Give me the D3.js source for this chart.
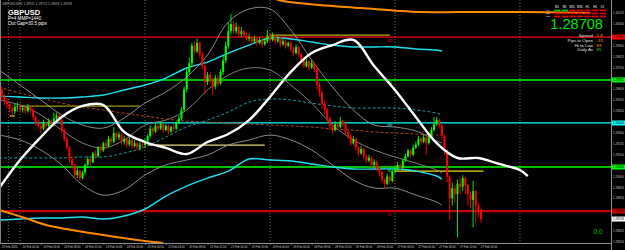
<!DOCTYPE html>
<html>
<head>
<meta charset="utf-8">
<title>GBPUSD M30</title>
<script src="https://cdn.jsdelivr.net/npm/d3@7"></script>
<style>
  body { margin: 0; background: #000; }
  svg { display: block; font-family: 'Liberation Sans', Arial, sans-serif; }
</style>
</head>
<body>
<div id="chart"></div>
<script>
var width = 625, height = 250;
var plotRight = 611, plotBottom = 243;

// M30 bars, 21 Feb 2020 20:00 .. 27 Feb 2020 16:30
var firstOpen = 1.2966;
var closes = [
  1.2960, 1.2955, 1.2952, 1.2950, 1.2947, 1.2945, 1.2948, 1.29485, 1.2946, 1.2947,
  1.2945, 1.2948, 1.2946, 1.2941, 1.2937, 1.2935, 1.2933, 1.2937, 1.2935, 1.2938,
  1.2936, 1.2940, 1.2942, 1.2939, 1.2932, 1.2926, 1.2920, 1.2912, 1.2908, 1.2901,
  1.2904, 1.2899, 1.2903, 1.2908, 1.2912, 1.2910, 1.2916, 1.2914, 1.2920, 1.2918,
  1.2923, 1.2921, 1.2926, 1.2924, 1.2930, 1.2927, 1.2929, 1.2924, 1.2926, 1.2922,
  1.2925, 1.2921, 1.2923, 1.2920, 1.2922, 1.29217, 1.2924, 1.2928, 1.2933, 1.2931,
  1.2935, 1.2933, 1.2936, 1.2932, 1.2935, 1.2931, 1.2934, 1.2933, 1.2937, 1.2940,
  1.2946, 1.2960, 1.2972, 1.2978, 1.2990, 1.2986, 1.2992, 1.2984, 1.2976, 1.2965,
  1.2970, 1.2966, 1.2962, 1.2968, 1.2964, 1.2972, 1.2980, 1.2990, 1.3000, 1.3005,
  1.3000, 1.3003, 1.2998, 1.3000, 1.2997, 1.2995, 1.2996, 1.2993, 1.2995, 1.2992,
  1.2994, 1.2991, 1.2993, 1.2997, 1.2994, 1.2997, 1.2993, 1.2995, 1.2991, 1.2993,
  1.2990, 1.2992, 1.2988, 1.2985, 1.2989, 1.2984, 1.2980, 1.2976, 1.2979, 1.2975,
  1.2978, 1.2974, 1.2963, 1.2958, 1.2950, 1.2946, 1.2940, 1.2935, 1.2932, 1.2936,
  1.2934, 1.2938, 1.2936, 1.2931, 1.2928, 1.2923, 1.2926, 1.2920, 1.2916, 1.2919,
  1.2914, 1.2911, 1.2913, 1.2908, 1.2910, 1.2906, 1.2903, 1.2898, 1.2895, 1.2900,
  1.2897, 1.29038, 1.2905, 1.2908, 1.2906, 1.2911, 1.2914, 1.2918, 1.2915, 1.2920,
  1.2922, 1.2926, 1.2924, 1.2927, 1.2923, 1.2927, 1.2932, 1.2936, 1.2939, 1.2935,
  1.2928, 1.2918, 1.2900, 1.2885, 1.2892, 1.2888, 1.2895, 1.2893, 1.2899, 1.2894,
  1.2888, 1.2884, 1.2890, 1.2880, 1.2877, 1.28708
];
var highs = [
  1.2968, 1.2962, 1.2957, 1.2954, 1.2951, 1.2949, 1.2950, 1.2951, 1.2950, 1.2949,
  1.2948, 1.2950, 1.2949, 1.2947, 1.2942, 1.2939, 1.2937, 1.2939, 1.2938, 1.2940,
  1.2939, 1.2944, 1.2944, 1.2943, 1.2940, 1.2933, 1.2927, 1.2921, 1.2914, 1.2909,
  1.2906, 1.2905, 1.2904, 1.2909, 1.2914, 1.2913, 1.2917, 1.2918, 1.2921, 1.2922,
  1.2924, 1.2925, 1.2928, 1.2927, 1.2934, 1.2931, 1.2931, 1.2930, 1.2928, 1.2927,
  1.2927, 1.2926, 1.2925, 1.2924, 1.2924, 1.2924, 1.2926, 1.2929, 1.2935, 1.2934,
  1.2937, 1.2936, 1.2938, 1.2937, 1.2936, 1.2936, 1.2935, 1.2936, 1.2938, 1.2942,
  1.2948, 1.2962, 1.2974, 1.2982, 1.2992, 1.2993, 1.2995, 1.2993, 1.2986, 1.2977,
  1.2972, 1.2972, 1.2968, 1.2970, 1.2970, 1.2974, 1.2983, 1.2993, 1.3006, 1.3012,
  1.3007, 1.3006, 1.3004, 1.3003, 1.3001, 1.2999, 1.2998, 1.2997, 1.2997, 1.2996,
  1.2996, 1.2995, 1.2995, 1.3001, 1.2998, 1.2999, 1.2998, 1.2997, 1.2996, 1.2995,
  1.2994, 1.2993, 1.2993, 1.2989, 1.2991, 1.2990, 1.2985, 1.2981, 1.2981, 1.2980,
  1.2980, 1.2979, 1.2975, 1.2965, 1.2959, 1.2952, 1.2947, 1.2941, 1.2936, 1.2938,
  1.2937, 1.2941, 1.2939, 1.2937, 1.2932, 1.2929, 1.2928, 1.2927, 1.2921, 1.2921,
  1.2920, 1.2915, 1.2915, 1.2914, 1.2912, 1.2911, 1.2907, 1.2904, 1.2899, 1.2902,
  1.2901, 1.2905, 1.2907, 1.2910, 1.2909, 1.2912, 1.2916, 1.2919, 1.2919, 1.2922,
  1.2924, 1.2928, 1.2927, 1.2929, 1.2928, 1.2929, 1.2934, 1.2941, 1.2941, 1.2940,
  1.2936, 1.2929, 1.2919, 1.2901, 1.2896, 1.2894, 1.2898, 1.2900, 1.2901, 1.2900,
  1.2895, 1.2890, 1.2897, 1.2891, 1.2882, 1.2878
];
var lows = [
  1.2958, 1.2953, 1.2949, 1.2947, 1.2944, 1.2942, 1.2943, 1.2945, 1.2944, 1.2944,
  1.2943, 1.2944, 1.2944, 1.2939, 1.2935, 1.2933, 1.2930, 1.2932, 1.2933, 1.2934,
  1.2934, 1.2935, 1.2939, 1.2937, 1.2930, 1.2924, 1.2918, 1.2910, 1.2905, 1.2899,
  1.2899, 1.2897, 1.2898, 1.2901, 1.2906, 1.2907, 1.2909, 1.2912, 1.2913, 1.2916,
  1.2917, 1.2919, 1.2920, 1.2922, 1.2923, 1.2925, 1.2925, 1.2922, 1.2922, 1.2920,
  1.2921, 1.2919, 1.2920, 1.2918, 1.2918, 1.2920, 1.2920, 1.2923, 1.2927, 1.2929,
  1.2930, 1.2931, 1.2932, 1.2930, 1.2931, 1.2929, 1.2930, 1.2931, 1.2932, 1.2936,
  1.2939, 1.2945, 1.2958, 1.2970, 1.2976, 1.2984, 1.2985, 1.2982, 1.2974, 1.2957,
  1.2963, 1.2964, 1.2956, 1.2960, 1.2962, 1.2963, 1.2970, 1.2978, 1.2988, 1.2998,
  1.2998, 1.2998, 1.2996, 1.2996, 1.2995, 1.2993, 1.2993, 1.2991, 1.2992, 1.2990,
  1.2991, 1.2989, 1.2990, 1.2992, 1.2992, 1.2993, 1.2991, 1.2992, 1.2989, 1.2990,
  1.2988, 1.2989, 1.2986, 1.2983, 1.2984, 1.2982, 1.2978, 1.2975, 1.2975, 1.2973,
  1.2974, 1.2972, 1.2960, 1.2955, 1.2947, 1.2943, 1.2937, 1.2932, 1.2930, 1.2931,
  1.2932, 1.2933, 1.2934, 1.2929, 1.2926, 1.2921, 1.2922, 1.2918, 1.2914, 1.2915,
  1.2912, 1.2909, 1.2910, 1.2906, 1.2907, 1.2904, 1.2900, 1.2896, 1.2892, 1.2894,
  1.2895, 1.2896, 1.2902, 1.2904, 1.2904, 1.2905, 1.2910, 1.2913, 1.2913, 1.2914,
  1.2919, 1.2921, 1.2922, 1.2923, 1.2915, 1.2922, 1.2926, 1.2931, 1.2935, 1.2933,
  1.2926, 1.2915, 1.2896, 1.2870, 1.2880, 1.2882, 1.2858, 1.2888, 1.2890, 1.2888,
  1.2880, 1.2878, 1.2865, 1.2868, 1.2872, 1.2868
];

var timeIdx = [0, 8, 16, 24, 32, 40, 48, 56, 64, 72, 80, 88, 96, 104, 112, 120, 128, 136, 144, 152, 160, 168, 176, 184];
var timeLabels = [
  '21 Feb 2020', '24 Feb 00:00', '24 Feb 04:00', '24 Feb 08:00', '24 Feb 12:00', '24 Feb 16:00', '24 Feb 20:00',
  '25 Feb 00:00', '25 Feb 04:00', '25 Feb 08:00', '25 Feb 12:00', '25 Feb 16:00', '25 Feb 20:00',
  '26 Feb 00:00', '26 Feb 04:00', '26 Feb 08:00', '26 Feb 12:00', '26 Feb 16:00', '26 Feb 20:00',
  '27 Feb 00:00', '27 Feb 04:00', '27 Feb 08:00', '27 Feb 12:00', '27 Feb 16:00'
];
var separatorIdx = [3.5, 8, 56, 104, 152, 200];

// indicator readings, sampled every 8 bars
var bandIdx = [0, 8, 16, 24, 32, 40, 48, 56, 64, 72, 80, 88, 96, 104, 112, 120, 128, 136, 144, 152, 160, 168, 170];
var upperGray = [1.29733, 1.29630, 1.29527, 1.29424, 1.29355, 1.29334, 1.29403, 1.29506, 1.29582, 1.29685, 1.29837, 1.30064, 1.30153, 1.30153, 1.30009, 1.29802, 1.29616, 1.29458, 1.29355, 1.29341, 1.29314, 1.29245, 1.29231];
var midGray = [1.29527, 1.29492, 1.29424, 1.29320, 1.29231, 1.29197, 1.29252, 1.29355, 1.29389, 1.29458, 1.29596, 1.29699, 1.29747, 1.29733, 1.29630, 1.29506, 1.29355, 1.29252, 1.29183, 1.29135, 1.29093, 1.29045, 1.29025];
var lowerGray = [1.29286, 1.29252, 1.29183, 1.29080, 1.28942, 1.28873, 1.28908, 1.29011, 1.29080, 1.29114, 1.29148, 1.29217, 1.29252, 1.29286, 1.29252, 1.29183, 1.29080, 1.28976, 1.28921, 1.28921, 1.28873, 1.28825, 1.28804];
var upperCyan = [1.29554, 1.29548, 1.29541, 1.29541, 1.29548, 1.29561, 1.29596, 1.29630, 1.29678, 1.29747, 1.29788, 1.29850, 1.29905, 1.29954, 1.29947, 1.29926, 1.29905, 1.29892, 1.29892, 1.29892, 1.29878, 1.29871, 1.29864];
var midTeal = [1.29128, 1.29128, 1.29128, 1.29128, 1.29135, 1.29135, 1.29162, 1.29204, 1.29272, 1.29341, 1.29389, 1.29444, 1.29513, 1.29534, 1.29527, 1.29506, 1.29486, 1.29472, 1.29472, 1.29472, 1.29458, 1.29437, 1.29424];
var lowerCyan = [1.28701, 1.28708, 1.28715, 1.28715, 1.28722, 1.28708, 1.28729, 1.28777, 1.28866, 1.28935, 1.28990, 1.29038, 1.29121, 1.29114, 1.29107, 1.29087, 1.29066, 1.29052, 1.29052, 1.29052, 1.29038, 1.29004, 1.28983];
var brownDash = [1.29616, 1.29575, 1.29541, 1.29506, 1.29479, 1.29458, 1.29437, 1.29417, 1.29396, 1.29382, 1.29375, 1.29369, 1.29362, 1.29355, 1.29348, 1.29341, 1.29327, 1.29320, 1.29307, 1.29300, 1.29293, 1.29286, 1.29286];

var whiteIdx = [0, 8, 16, 24, 32, 40, 48, 56, 64, 72, 80, 88, 96, 104, 112, 120, 128, 136, 144, 152, 160, 168, 176, 184, 192, 200, 203];
var whiteMA = [1.28921, 1.29114, 1.29272, 1.29410, 1.29486, 1.29492, 1.29307, 1.29238, 1.29197, 1.29155, 1.29238, 1.29293, 1.29389, 1.29548, 1.29720, 1.29850, 1.29905, 1.29940, 1.29761, 1.29596, 1.29410, 1.29231, 1.29128, 1.29128, 1.29087, 1.29045, 1.29004];

var orangeTopIdx = [104, 109, 123, 139, 154, 162, 177, 200, 227];
var orangeTop = [1.30236, 1.30208, 1.30181, 1.30160, 1.30139, 1.30132, 1.30132, 1.30132, 1.30126];
var orangeLowIdx = [0, 10, 18, 35, 53, 63];
var orangeLow = [1.28770, 1.28715, 1.28667, 1.28612, 1.28564, 1.28543];

// pivot levels
var pivotNames = ['R2', 'R1', 'PP', 'S1', 'S2'];
var pivotPrices = [1.29960, 1.29665, 1.29369, 1.29066, 1.28763];
var pivotColors = ['#ff0000', '#00ff00', '#00ffff', '#00ff00', '#c80000'];

// daily open segments
var dayOpenStart = [4, 8, 57, 104, 152];
var dayOpenEnd = [6, 54, 102, 150, 186];
var dayOpenPrice = [1.29417, 1.29485, 1.29217, 1.29974, 1.29038];
var dayOpenColors = ['#e8d000', '#9a9a10', '#e6dc78', '#b4b400', '#f0e000'];

var bid = 1.28708;
var tfNames = ['M1', 'M5', 'M15', 'M30', 'H1', 'H4', 'D1'];
var tfRowNames = ['MA', 'RSI', 'CCI'];
var tfRows = [[1, 1, 0, 0, 0, 0, 0], [0, 0, 0, 0, 0, 0, 0], [0, 0, 0, 0, 0, 0, 0]];
var infoNames = ['Spread', 'Pips to Open', 'Hi to Low', 'Daily Av'];
var infoValues = ['0.8', '-33', '83', '85'];
var infoColors = ['#ff8c00', '#ff8c00', '#ff8c00', '#32cd32'];

var x = d3.scaleLinear().domain([0, 235]).range([-0.8, 611.1]);
var y = d3.scaleLinear().domain([1.2855, 1.30215]).range([242, 0]);

var svg = d3.select('#chart').append('svg')
    .attr('width', width)
    .attr('height', height)
    .style('background', '#000');

svg.append('clipPath').attr('id', 'plot-clip')
    .append('rect').attr('x', 0).attr('y', 0).attr('width', plotRight).attr('height', plotBottom);

var plot = svg.append('g').attr('clip-path', 'url(#plot-clip)');

// day separators
plot.selectAll('line.sep')
    .data(separatorIdx)
    .enter()
    .append('line')
        .attr('x1', d => x(d)).attr('x2', d => x(d))
        .attr('y1', 0).attr('y2', plotBottom)
        .attr('stroke', '#8a8a8a')
        .attr('stroke-width', 0.8)
        .attr('stroke-dasharray', '1,2');

// pivot lines
plot.selectAll('line.pivot')
    .data(pivotPrices)
    .enter()
    .append('line')
        .attr('x1', 0).attr('x2', plotRight)
        .attr('y1', d => y(d)).attr('y2', d => y(d))
        .attr('stroke', (d, i) => pivotColors[i])
        .attr('stroke-width', (d, i) => i == 4 ? 2.2 : (i == 1 || i == 3 ? 1.6 : 1.2));

plot.selectAll('text.pivot')
    .data(pivotPrices)
    .enter()
    .append('text')
        .attr('x', x(149))
        .attr('y', d => y(d) + 4.5)
        .attr('font-size', 4)
        .attr('fill', (d, i) => pivotColors[i])
        .text((d, i) => pivotNames[i]);

// daily opens
plot.selectAll('line.dayopen')
    .data(dayOpenPrice)
    .enter()
    .append('line')
        .attr('x1', (d, i) => x(dayOpenStart[i]))
        .attr('x2', (d, i) => x(dayOpenEnd[i]))
        .attr('y1', d => y(d)).attr('y2', d => y(d))
        .attr('stroke', (d, i) => dayOpenColors[i])
        .attr('stroke-width', 1.2);

function series(idx, vals) {
    return idx.map((t, i) => [t, vals[i]]);
}
var line = d3.line()
    .x(d => x(d[0]))
    .y(d => y(d[1]))
    .curve(d3.curveCatmullRom);

var lineDefs = [
    [bandIdx, upperGray, '#9a9a9a', 0.9, null],
    [bandIdx, midGray, '#8c8c8c', 0.9, null],
    [bandIdx, lowerGray, '#9a9a9a', 0.9, null],
    [bandIdx, brownDash, '#b0401a', 1, '3,2'],
    [bandIdx, midTeal, '#1a9a9a', 1, '3,2'],
    [bandIdx, upperCyan, '#20e0f0', 1.4, null],
    [bandIdx, lowerCyan, '#20e0f0', 1.4, null],
    [orangeTopIdx, orangeTop, '#ff8c00', 2, null],
    [orangeLowIdx, orangeLow, '#ff8c00', 2, null]
];
plot.selectAll('path.ind')
    .data(lineDefs)
    .enter()
    .append('path')
        .attr('d', d => line(series(d[0], d[1])))
        .attr('fill', 'none')
        .attr('stroke', d => d[2])
        .attr('stroke-width', d => d[3])
        .attr('stroke-dasharray', d => d[4]);

// candles
var bars = closes.map((c, i) => ({ i: i, o: i ? closes[i - 1] : firstOpen, h: highs[i], l: lows[i], c: c }));
var candle = plot.selectAll('g.bar')
    .data(bars)
    .enter()
    .append('g');
candle.append('line')
    .attr('x1', d => x(d.i)).attr('x2', d => x(d.i))
    .attr('y1', d => y(d.h)).attr('y2', d => y(d.l))
    .attr('stroke', d => d.c >= d.o ? '#00ff00' : '#ff0000')
    .attr('stroke-width', 0.9);
candle.append('rect')
    .attr('x', d => x(d.i) - 1)
    .attr('width', 2)
    .attr('y', d => y(Math.max(d.o, d.c)))
    .attr('height', d => Math.max(0.8, Math.abs(y(d.o) - y(d.c))))
    .attr('fill', d => d.c >= d.o ? '#00ff00' : '#ff0000');

// white moving average on top
plot.append('path')
    .attr('d', line(series(whiteIdx, whiteMA)))
    .attr('fill', 'none')
    .attr('stroke', '#ffffff')
    .attr('stroke-width', 2.4);

// frame
svg.append('line').attr('x1', 0.5).attr('x2', 0.5).attr('y1', 0).attr('y2', plotBottom)
    .attr('stroke', '#808080').attr('stroke-width', 1);
svg.append('line').attr('x1', 0).attr('x2', plotRight).attr('y1', plotBottom + 0.5).attr('y2', plotBottom + 0.5)
    .attr('stroke', '#909090').attr('stroke-width', 1);
svg.append('line').attr('x1', plotRight + 0.5).attr('x2', plotRight + 0.5).attr('y1', 0).attr('y2', height)
    .attr('stroke', '#909090').attr('stroke-width', 1);

// price axis: tick labels hidden under the coloured level boxes are skipped
var fmt = d3.format('.5f');
var boxes = pivotPrices.map((p, i) => ({ p: p, fill: pivotColors[i], text: '#000' }));
boxes.push({ p: bid, fill: '#ffffff', text: '#000' });
var priceTicks = d3.range(1.2855, 1.3022, 0.00075)
    .filter(t => boxes.every(b => Math.abs(y(t) - y(b.p)) > 5.5) && y(t) > 3);
svg.selectAll('text.ptick')
    .data(priceTicks)
    .enter()
    .append('text')
        .attr('x', plotRight + 2)
        .attr('y', d => y(d) + 1.1)
        .attr('font-size', 3)
        .attr('fill', '#c8c8c8')
        .text(d => fmt(d));

var box = svg.selectAll('g.pbox')
    .data(boxes)
    .enter()
    .append('g');
box.append('rect')
    .attr('x', plotRight + 1)
    .attr('y', d => y(d.p) - 2.5)
    .attr('width', 13.5)
    .attr('height', 5)
    .attr('fill', d => d.fill);
box.append('text')
    .attr('x', plotRight + 2)
    .attr('y', d => y(d.p) + 1.1)
    .attr('font-size', 3)
    .attr('fill', d => d.text)
    .text(d => fmt(d.p));

// time axis
svg.selectAll('text.ttick')
    .data(timeIdx)
    .enter()
    .append('text')
        .attr('x', d => x(d) + 2.5)
        .attr('y', 248)
        .attr('font-size', 2.8)
        .attr('fill', '#c8c8c8')
        .text((d, i) => timeLabels[i]);
svg.selectAll('line.ttick')
    .data(timeIdx)
    .enter()
    .append('line')
        .attr('x1', d => x(d) + 0.5).attr('x2', d => x(d) + 0.5)
        .attr('y1', plotBottom).attr('y2', plotBottom + 2)
        .attr('stroke', '#909090').attr('stroke-width', 0.8);

// header texts
svg.append('text')
    .attr('x', 2).attr('y', 5)
    .attr('font-size', 4)
    .attr('textLength', 70)
    .attr('lengthAdjust', 'spacingAndGlyphs')
    .attr('fill', '#b0b0b0')
    .text('GBPUSD,M30  1.28741 1.28752 1.28695 1.28708');
svg.append('text')
    .attr('x', 8).attr('y', 15)
    .attr('font-size', 7.5)
    .attr('font-weight', 'bold')
    .attr('fill', '#ffffff')
    .text('GBPUSD');
svg.append('text')
    .attr('x', 8).attr('y', 19.5)
    .attr('font-size', 4.6)
    .attr('fill', '#ffffff')
    .text('P=4 MMP=1440');
svg.append('text')
    .attr('x', 8).attr('y', 24.5)
    .attr('font-size', 4.6)
    .attr('fill', '#ffffff')
    .text('Out Gap=30.5 pips');

// trend panel
var panel = svg.append('g');
panel.selectAll('text.tf')
    .data(tfNames)
    .enter()
    .append('text')
        .attr('x', (d, i) => 557 + i * 7.6)
        .attr('y', 8.2)
        .attr('font-size', 2.8)
        .attr('text-anchor', 'middle')
        .attr('fill', '#ffffff')
        .text(d => d);
tfRows.forEach((row, r) => {
    panel.selectAll('rect.r' + r)
        .data(row)
        .enter()
        .append('rect')
            .attr('x', (d, i) => 554 + i * 7.6)
            .attr('y', 9.6 + r * 3)
            .attr('width', 6.4)
            .attr('height', 1.7)
            .attr('fill', d => d ? '#00c800' : '#e00000');
    panel.append('text')
        .attr('x', 550)
        .attr('y', 11.4 + r * 3)
        .attr('font-size', 2.3)
        .attr('text-anchor', 'end')
        .attr('fill', '#ffffff')
        .text(tfRowNames[r]);
});
panel.append('text')
    .attr('x', 603).attr('y', 29.3)
    .attr('font-size', 14.6)
    .attr('text-anchor', 'end')
    .attr('fill', '#00e600')
    .text(d3.format('.5f')(bid));
panel.selectAll('text.iname')
    .data(infoNames)
    .enter()
    .append('text')
        .attr('x', 593)
        .attr('y', (d, i) => 37 + i * 4.8)
        .attr('font-size', 4.4)
        .attr('text-anchor', 'end')
        .attr('fill', '#e0e0e0')
        .text(d => d);
panel.selectAll('text.ival')
    .data(infoValues)
    .enter()
    .append('text')
        .attr('x', 596.5)
        .attr('y', (d, i) => 37 + i * 4.8)
        .attr('font-size', 4.4)
        .attr('fill', (d, i) => infoColors[i])
        .text(d => d);

svg.append('text')
    .attr('x', 598).attr('y', 234)
    .attr('font-size', 6.5)
    .attr('text-anchor', 'middle')
    .attr('fill', '#00c000')
    .text('0.0');
</script>
</body>
</html>
